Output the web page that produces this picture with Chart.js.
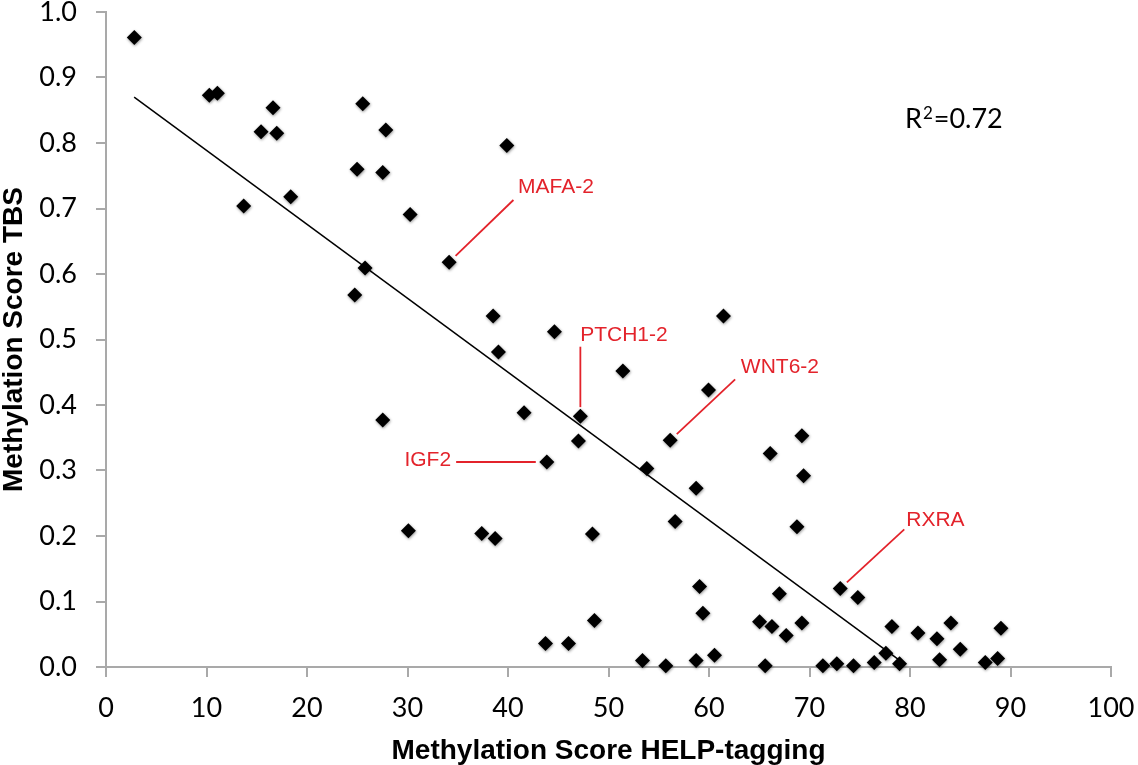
<!DOCTYPE html>
<html>
<head>
<meta charset="utf-8">
<script src="https://cdn.jsdelivr.net/npm/chart.js@4/dist/chart.umd.min.js"></script>
<style>
  html, body { margin: 0; padding: 0; background: #fff; }
  #wrap { width: 1138px; height: 765px; }
</style>
</head>
<body>
<div id="wrap"><canvas id="c" width="1138" height="765"></canvas></div>
<script>
// ---- data ----
const helpX = [2.82, 10.28, 11.08, 13.7, 15.43, 16.62, 16.99, 18.38, 24.75, 24.98, 25.55, 25.78,
  27.54, 27.84, 27.54, 30.26, 30.09, 34.14, 37.39, 38.52, 38.72, 39.05, 39.88, 41.6,
  43.73, 43.86, 44.62, 46.02, 47.01, 47.2, 48.4, 48.6, 51.43, 53.38, 53.81, 55.7,
  56.14, 56.63, 58.72, 58.72, 59.06, 59.39, 59.95, 60.55, 61.44, 65.03, 65.59, 66.09,
  66.26, 67.0, 67.68, 68.75, 69.24, 69.41, 69.24, 71.33, 72.72, 73.06, 74.38, 74.81,
  76.44, 77.6, 78.2, 78.96, 80.79, 82.68, 82.94, 84.07, 85.0, 87.49, 88.72, 89.05];
const tbsY = [0.961, 0.873, 0.876, 0.704, 0.817, 0.854, 0.815, 0.718, 0.568, 0.760, 0.860, 0.609,
  0.755, 0.820, 0.377, 0.691, 0.208, 0.618, 0.204, 0.536, 0.196, 0.481, 0.796, 0.388,
  0.036, 0.313, 0.512, 0.036, 0.345, 0.383, 0.203, 0.071, 0.452, 0.010, 0.303, 0.002,
  0.346, 0.222, 0.273, 0.010, 0.123, 0.082, 0.423, 0.018, 0.536, 0.069, 0.002, 0.326,
  0.062, 0.112, 0.048, 0.214, 0.353, 0.292, 0.067, 0.002, 0.005, 0.120, 0.002, 0.106,
  0.007, 0.021, 0.062, 0.005, 0.052, 0.043, 0.011, 0.067, 0.027, 0.007, 0.013, 0.059];

// trend line end points (as drawn in the reference)
const trendX = [2.8, 78.8];
const trendY = [0.870, 0.012];

const xTicks = [0, 10, 20, 30, 40, 50, 60, 70, 80, 90, 100];
const yTicks = [0.0, 0.1, 0.2, 0.3, 0.4, 0.5, 0.6, 0.7, 0.8, 0.9, 1.0];

const rSquaredParts = ['R', '2', '=0.72'];

// labelled genes: anchor point (data units)
const annoLabels = ['MAFA-2', 'PTCH1-2', 'IGF2', 'WNT6-2', 'RXRA'];
const annoPointX = [34.14, 47.2, 43.86, 56.14, 73.06];
const annoPointY = [0.618, 0.383, 0.313, 0.346, 0.120];
// ---- end data ----

// annotation layout in data units: leader-line end, text anchor, alignment
const annoLayout = [
  { endX: 40.54, endY: 0.713, textX: 41.0,  textY: 0.732, align: 'left',  gap: 9 },
  { endX: 47.2,  endY: 0.489, textX: 47.18, textY: 0.507, align: 'left',  gap: 9 },
  { endX: 34.84, endY: 0.313, textX: 34.34, textY: 0.315, align: 'right', gap: 11 },
  { endX: 62.6,  endY: 0.439, textX: 63.17, textY: 0.458, align: 'left',  gap: 9 },
  { endX: 79.43, endY: 0.210, textX: 79.63, textY: 0.224, align: 'left',  gap: 9 }
];
const rSquaredPos = { x: 79.5, y: 0.8365 };

const points = helpX.map((x, i) => ({ x: x, y: tbsY[i] }));
const trend = trendX.map((x, i) => ({ x: x, y: trendY[i] }));

const AXIS_GRAY = '#a9a9a9';
const RED = '#e3232b';
const TICK_FONT = 'Lato, "Open Sans", sans-serif';

const shadowPlugin = {
  id: 'pointShadow',
  beforeDatasetDraw(chart, args) {
    if (args.index !== 0) return;
    const ctx = chart.ctx;
    ctx.save();
    ctx.shadowColor = 'rgba(0,0,0,0.45)';
    ctx.shadowBlur = 3;
    ctx.shadowOffsetX = 0.5;
    ctx.shadowOffsetY = 1;
  },
  afterDatasetDraw(chart, args) {
    if (args.index !== 0) return;
    chart.ctx.restore();
  }
};

const annoPlugin = {
  id: 'annotations',
  afterDatasetsDraw(chart) {
    const ctx = chart.ctx;
    const xs = chart.scales.x, ys = chart.scales.y;
    ctx.save();
    ctx.strokeStyle = RED;
    ctx.fillStyle = RED;
    ctx.lineWidth = 1.8;
    ctx.font = '21px "Liberation Sans", Arial, sans-serif';
    ctx.textBaseline = 'middle';
    annoLabels.forEach((lab, i) => {
      const L = annoLayout[i];
      const px = xs.getPixelForValue(annoPointX[i]);
      const py = ys.getPixelForValue(annoPointY[i]);
      const ex = xs.getPixelForValue(L.endX);
      const ey = ys.getPixelForValue(L.endY);
      const dx = ex - px, dy = ey - py;
      const len = Math.hypot(dx, dy);
      const sx = px + dx / len * L.gap;
      const sy = py + dy / len * L.gap;
      ctx.beginPath();
      ctx.moveTo(sx, sy);
      ctx.lineTo(ex, ey);
      ctx.stroke();
      ctx.textAlign = L.align;
      ctx.fillText(lab, xs.getPixelForValue(L.textX), ys.getPixelForValue(L.textY));
    });
    // R squared with superscript
    ctx.fillStyle = '#000';
    ctx.textAlign = 'left';
    ctx.textBaseline = 'alphabetic';
    let rx = xs.getPixelForValue(rSquaredPos.x);
    const base = ys.getPixelForValue(rSquaredPos.y) + 9;
    ctx.font = '27px ' + TICK_FONT;
    ctx.fillText(rSquaredParts[0], rx, base);
    rx += ctx.measureText(rSquaredParts[0]).width + 1;
    ctx.font = '17px ' + TICK_FONT;
    ctx.fillText(rSquaredParts[1], rx, base - 9);
    rx += ctx.measureText(rSquaredParts[1]).width + 1;
    ctx.font = '27px ' + TICK_FONT;
    ctx.fillText(rSquaredParts[2], rx, base);
    ctx.restore();
  }
};

new Chart(document.getElementById('c'), {
  type: 'scatter',
  data: {
    datasets: [
      {
        type: 'scatter',
        data: points,
        pointStyle: 'rectRot',
        pointRadius: 7.5,
        pointHoverRadius: 7.5,
        backgroundColor: '#000',
        borderColor: '#000',
        borderWidth: 0,
        clip: false,
        order: 1
      },
      {
        type: 'line',
        data: trend,
        borderColor: '#000',
        borderWidth: 1.5,
        pointRadius: 0,
        fill: false,
        tension: 0,
        clip: false,
        order: 2
      }
    ]
  },
  options: {
    responsive: false,
    animation: false,
    devicePixelRatio: 1,
    layout: { padding: { left: 0, right: 27, top: 12, bottom: 0 } },
    plugins: { legend: { display: false }, tooltip: { enabled: false } },
    scales: {
      x: {
        type: 'linear',
        min: 0, max: 100,
        afterBuildTicks(s) { s.ticks = xTicks.map(v => ({ value: v })); },
        afterFit(s) { s.height = 98; s.paddingLeft = 0; s.paddingRight = 0; },
        ticks: {
          color: '#000',
          padding: 18,
          maxRotation: 0,
          autoSkip: false,
          font: { family: TICK_FONT, size: 27, lineHeight: 1 },
          callback: v => String(v)
        },
        grid: { drawOnChartArea: false, drawTicks: true, tickLength: 10, color: AXIS_GRAY, lineWidth: 2 },
        border: { display: true, color: AXIS_GRAY, width: 2 },
        title: {
          display: true,
          text: 'Methylation Score HELP-tagging',
          color: '#000',
          padding: 0,
          font: { family: '"Liberation Sans", Arial, sans-serif', size: 28, weight: 'bold', lineHeight: 1 }
        }
      },
      y: {
        type: 'linear',
        min: 0, max: 1,
        afterBuildTicks(s) { s.ticks = yTicks.map(v => ({ value: v })); },
        afterFit(s) { s.width = 106; s.paddingTop = 0; s.paddingBottom = 0; },
        ticks: {
          color: '#000',
          padding: 19,
          autoSkip: false,
          font: { family: TICK_FONT, size: 27, lineHeight: 1 },
          callback: v => Number(v).toFixed(1)
        },
        grid: { drawOnChartArea: false, drawTicks: true, tickLength: 10, color: AXIS_GRAY, lineWidth: 2 },
        border: { display: true, color: AXIS_GRAY, width: 2 },
        title: {
          display: true,
          text: 'Methylation Score TBS',
          color: '#000',
          padding: 0,
          font: { family: '"Liberation Sans", Arial, sans-serif', size: 28, weight: 'bold', lineHeight: 1 }
        }
      }
    }
  },
  plugins: [shadowPlugin, annoPlugin]
});
</script>
</body>
</html>
